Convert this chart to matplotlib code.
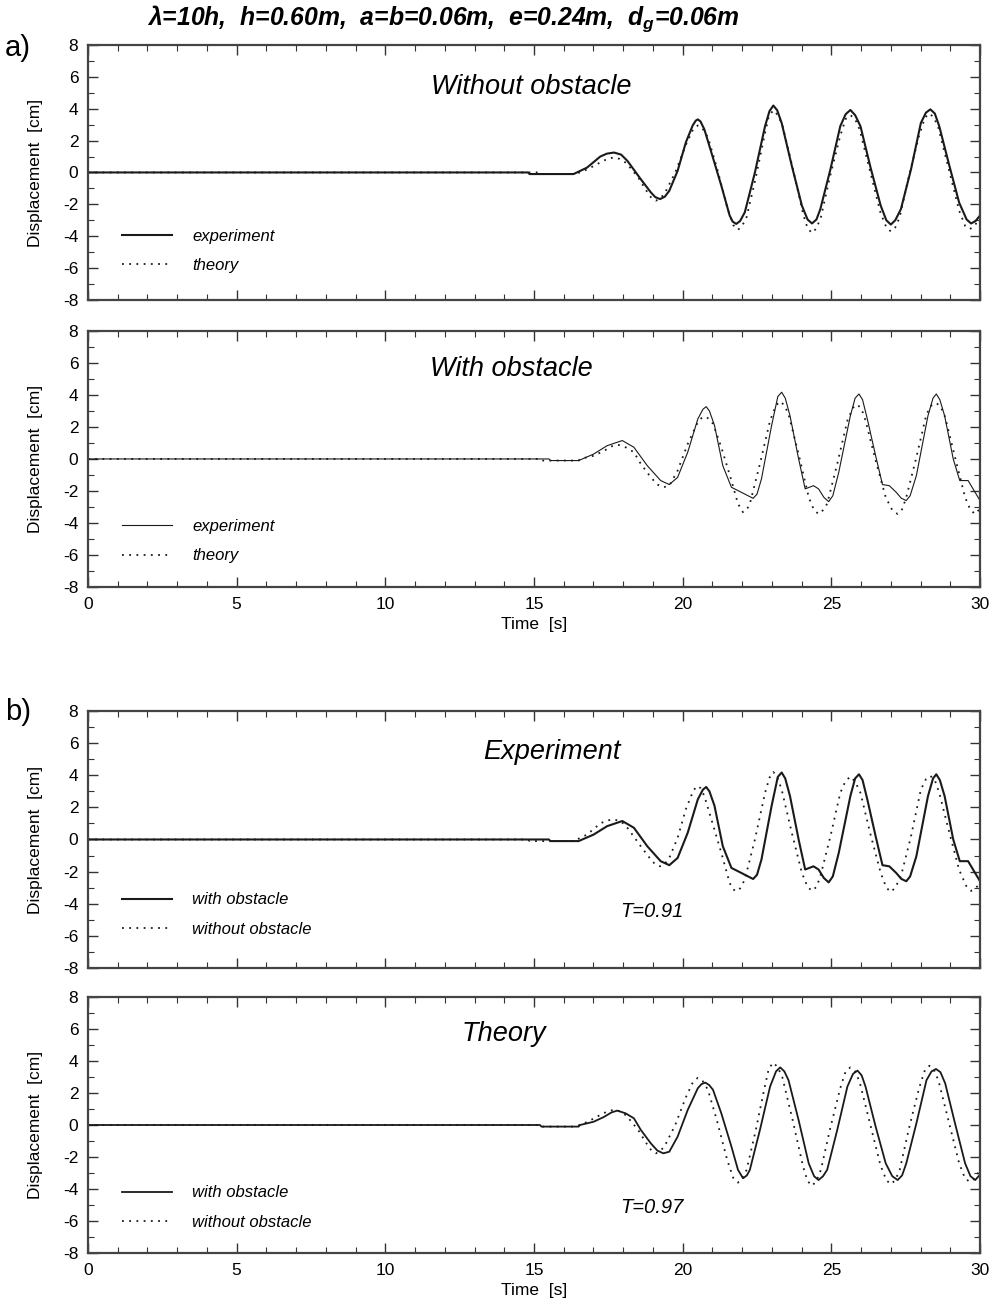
import numpy as np
import matplotlib
matplotlib.use('Agg')
import matplotlib.pyplot as plt
from matplotlib.ticker import MultipleLocator

plt.rcParams['font.family'] = ['Liberation Sans', 'DejaVu Sans']
plt.rcParams['axes.unicode_minus'] = False
plt.rcParams['mathtext.fontset'] = 'custom'
plt.rcParams['mathtext.it'] = 'Liberation Sans:bold:italic'
plt.rcParams['mathtext.rm'] = 'Liberation Sans:bold:italic'

# experiment, without obstacle (top)
t_exp_without = [0, 14.8, 14.85, 16.33, 16.78, 17.23, 17.45, 17.69, 17.93, 18.14, 18.59, 18.93, 19.08,
                 19.24, 19.4, 19.55, 19.83, 20.11, 20.34, 20.44, 20.51, 20.6, 20.73, 21.0, 21.3, 21.58,
                 21.68, 21.8, 21.93, 22.09, 22.43, 22.77, 22.92, 23.05, 23.18, 23.33, 23.67, 24.01,
                 24.2, 24.35, 24.5, 24.63, 24.97, 25.3, 25.48, 25.64, 25.8, 25.98, 26.32, 26.66,
                 26.85, 27.0, 27.15, 27.34, 27.68, 28.01, 28.18, 28.33, 28.48, 28.63, 28.97, 29.3,
                 29.55, 29.7, 29.85, 30.0]
y_exp_without = [0, 0, -0.1, -0.1, 0.3, 1.0, 1.18, 1.25, 1.12, 0.73, -0.42, -1.25, -1.55,
                 -1.67, -1.52, -1.15, 0.1, 1.9, 2.96, 3.25, 3.33, 3.2, 2.7, 1.04, -0.83, -2.7,
                 -3.08, -3.23, -3.05, -2.5, 0.0, 2.9, 3.85, 4.2, 3.9, 3.1, 0.42, -2.08,
                 -2.95, -3.2, -2.95, -2.3, 0.2, 2.9, 3.65, 3.92, 3.6, 2.9, 0.3, -2.08,
                 -3.0, -3.27, -3.0, -2.3, 0.2, 3.1, 3.75, 3.96, 3.7, 2.9, 0.42, -1.9,
                 -2.95, -3.2, -3.05, -2.7]

# experiment, with obstacle (bottom)
t_exp_with = [0, 15.5, 15.55, 16.5, 17.0, 17.46, 17.97, 18.36, 18.81, 19.26, 19.55, 19.83, 20.17,
              20.51, 20.68, 20.79, 20.9, 21.07, 21.35, 21.64, 21.97, 22.2, 22.37, 22.5, 22.65,
              22.99, 23.2, 23.33, 23.45, 23.61, 23.9, 24.12, 24.4, 24.57, 24.75, 24.91, 25.05,
              25.25, 25.64, 25.8, 25.93, 26.05, 26.21, 26.49, 26.72, 26.95, 27.18, 27.35, 27.52,
              27.65, 27.86, 28.25, 28.42, 28.53, 28.65, 28.81, 29.1, 29.32, 29.6, 30.0]
y_exp_with = [0, 0, -0.1, -0.1, 0.3, 0.83, 1.15, 0.73, -0.42, -1.35, -1.6, -1.15, 0.42,
              2.5, 3.1, 3.27, 3.0, 2.1, -0.42, -1.77, -2.08, -2.3, -2.46, -2.2, -1.25,
              2.08, 3.9, 4.17, 3.8, 2.7, 0.0, -1.87, -1.67, -1.87, -2.4, -2.67, -2.3,
              -0.83, 2.7, 3.8, 4.06, 3.7, 2.5, 0.2, -1.6, -1.67, -2.08, -2.45, -2.6,
              -2.3, -1.04, 2.7, 3.8, 4.06, 3.7, 2.7, 0.0, -1.35, -1.35, -2.6]

# theory, without obstacle
t_th_without = [0, 15.2, 15.25, 16.4, 16.8, 17.2, 17.5, 17.69, 17.88, 18.1, 18.5, 18.8, 18.95, 19.1,
                19.25, 19.4, 19.75, 20.1, 20.35, 20.51, 20.67, 20.85, 21.15, 21.5, 21.7, 21.86, 22.0,
                22.15, 22.45, 22.75, 22.9, 23.05, 23.2, 23.35, 23.7, 24.05, 24.2, 24.35, 24.5, 24.65,
                24.95, 25.3, 25.48, 25.64, 25.8, 25.95, 26.3, 26.65, 26.85, 27.0, 27.15, 27.3, 27.6,
                27.95, 28.15, 28.3, 28.45, 28.6, 28.95, 29.3, 29.5, 29.66, 29.82, 30.0]
y_th_without = [0, 0, -0.1, -0.1, 0.2, 0.6, 0.88, 0.94, 0.85, 0.6, -0.3, -1.2, -1.6, -1.77,
                -1.62, -1.3, 0.0, 1.7, 2.7, 2.95, 2.75, 2.2, 0.3, -2.2, -3.3, -3.6, -3.35,
                -2.8, -0.4, 2.3, 3.55, 3.9, 3.6, 3.0, 0.3, -2.6, -3.5, -3.8, -3.5, -2.8,
                -0.3, 2.3, 3.35, 3.6, 3.35, 2.7, 0.1, -2.5, -3.45, -3.7, -3.45, -2.8, -0.3,
                2.3, 3.45, 3.7, 3.45, 2.8, 0.2, -2.4, -3.35, -3.55, -3.35, -2.8]

# theory, with obstacle
t_th_with = [0, 15.2, 15.25, 16.5, 16.55, 17.0, 17.35, 17.6, 17.8, 18.08, 18.36, 18.59, 18.93, 19.15,
             19.35, 19.55, 19.83, 20.17, 20.51, 20.63, 20.76, 20.89, 21.02, 21.3, 21.64, 21.86, 22.03,
             22.16, 22.26, 22.6, 22.94, 23.14, 23.28, 23.42, 23.56, 23.9, 24.24, 24.42, 24.57, 24.72,
             24.86, 25.2, 25.54, 25.73, 25.88, 26.02, 26.15, 26.49, 26.83, 27.05, 27.23, 27.38, 27.52,
             27.86, 28.2, 28.37, 28.52, 28.67, 28.83, 29.16, 29.5, 29.68, 29.84, 30.0]
y_th_with = [0, 0, -0.1, -0.1, 0.0, 0.2, 0.5, 0.78, 0.9, 0.73, 0.42, -0.3, -1.15, -1.6,
             -1.77, -1.67, -0.73, 0.94, 2.3, 2.55, 2.65, 2.5, 2.2, 0.73, -1.35, -2.8, -3.33,
             -3.15, -2.8, -0.3, 2.4, 3.35, 3.6, 3.35, 2.8, 0.3, -2.4, -3.2, -3.44, -3.2,
             -2.8, -0.3, 2.4, 3.2, 3.4, 3.1, 2.4, -0.1, -2.4, -3.2, -3.44, -3.15, -2.4,
             0.1, 2.8, 3.35, 3.5, 3.3, 2.6, 0.1, -2.4, -3.2, -3.44, -3.1]

header = u'\u03bb=10h,  h=0.60m,  a=b=0.06m,  e=0.24m,  $d_g$=0.06m'

dot = (0, (1, 3))
panels = [
    # rect, title, title pos, solid, dotted, labels, solid lw, T text, legend y, x labels
    ([0.088, 0.7705, 0.892, 0.1951], 'Without obstacle', (0.497, 0.835),
     (t_exp_without, y_exp_without), (t_th_without, y_th_without),
     ['experiment', 'theory'], 1.5, None, 0.192, False),
    ([0.088, 0.5509, 0.892, 0.1959], 'With obstacle', (0.475, 0.852),
     (t_exp_with, y_exp_with), (t_th_with, y_th_with),
     ['experiment', 'theory'], 0.8, None, 0.178, True),
    ([0.088, 0.2594, 0.892, 0.1966], 'Experiment', (0.52, 0.84),
     (t_exp_with, y_exp_with), (t_exp_without, y_exp_without),
     ['with obstacle', 'without obstacle'], 1.5, ('T=0.91', 0.632, 0.218), 0.208, False),
    ([0.088, 0.0413, 0.892, 0.1959], 'Theory', (0.466, 0.855),
     (t_th_with, y_th_with), (t_th_without, y_th_without),
     ['with obstacle', 'without obstacle'], 1.3, ('T=0.97', 0.632, 0.176), 0.178, True),
]

fig = plt.figure(figsize=(10, 13.07), dpi=100)

for rect, title, tpos, solid, dotted, labels, lw, ttext, legy, xlab in panels:
    ax = fig.add_axes(rect)
    ax.plot(solid[0], solid[1], color='#1a1a1a', lw=lw, label=labels[0])
    ax.plot(dotted[0], dotted[1], color='#1a1a1a', lw=1.3, ls=dot, label=labels[1])
    ax.set_xlim(0, 30)
    ax.set_ylim(-8, 8)
    ax.xaxis.set_major_locator(MultipleLocator(5))
    ax.xaxis.set_minor_locator(MultipleLocator(1))
    ax.yaxis.set_major_locator(MultipleLocator(2))
    ax.yaxis.set_minor_locator(MultipleLocator(1))
    ax.tick_params(which='both', direction='in', top=True, right=True, color='#333333',
                   labelsize=12.5)
    ax.tick_params(which='major', length=7, width=1)
    ax.tick_params(which='minor', length=4, width=0.8)
    ax.tick_params(axis='x', which='major', pad=7.5)
    ax.tick_params(axis='y', which='major', pad=7)
    for s in ax.spines.values():
        s.set_color('#444444')
        s.set_linewidth(1.6)
    ax.set_ylabel('Displacement  [cm]', fontsize=12.5, labelpad=14)
    if xlab:
        ax.set_xlabel('Time  [s]', fontsize=12.5, labelpad=3)
    else:
        ax.tick_params(labelbottom=False)
    ax.text(tpos[0], tpos[1], title, transform=ax.transAxes, ha='center', va='center',
            fontsize=19.5, style='italic')
    if ttext:
        ax.text(ttext[1], ttext[2], ttext[0], transform=ax.transAxes, ha='center',
                va='center', fontsize=14.5, style='italic')
    ax.legend(loc='center left', bbox_to_anchor=(0.029, legy), frameon=False,
              borderpad=0, handlelength=3.0, handletextpad=1.2, labelspacing=0.85,
              prop={'style': 'italic', 'size': 12})

fig.text(0.147, 0.986, header, fontsize=17.8, weight='bold', style='italic', va='center')
fig.text(0.005, 0.963, 'a)', fontsize=21, va='center')
fig.text(0.005, 0.455, 'b)', fontsize=21, va='center')

fig.savefig('out.png', dpi=100)
